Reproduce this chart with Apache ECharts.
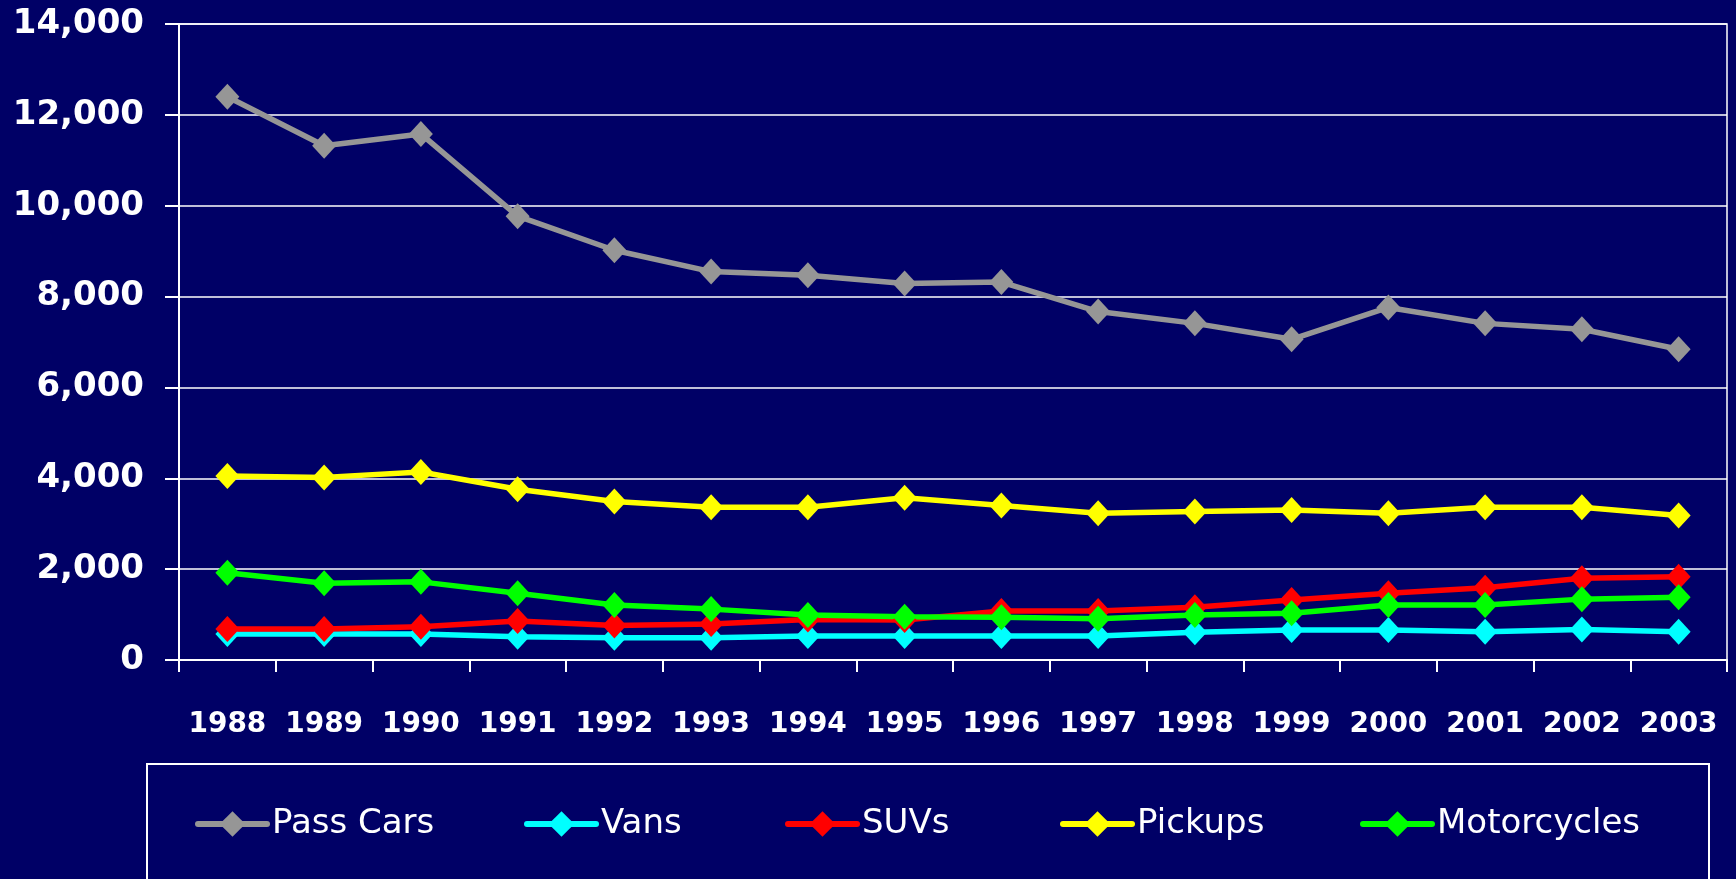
<!DOCTYPE html>
<html>
<head>
<meta charset="utf-8">
<script src="https://cdn.jsdelivr.net/npm/echarts@6/dist/echarts.min.js"></script>
<style>
  html, body { margin: 0; padding: 0; background: #000066; }
  #chart { width: 1736px; height: 879px; }
</style>
</head>
<body>
<div id="chart"></div>
<script>
const years = ['1988', '1989', '1990', '1991', '1992', '1993', '1994', '1995',
               '1996', '1997', '1998', '1999', '2000', '2001', '2002', '2003'];

const passCars    = [12400, 11320, 11580, 9770, 9020, 8550, 8470, 8290, 8320, 7670, 7410, 7060, 7760, 7410, 7280, 6840];
const vans        = [570, 570, 570, 510, 490, 490, 530, 530, 530, 530, 610, 660, 660, 620, 670, 620];
const suvs        = [680, 680, 730, 860, 760, 790, 890, 880, 1080, 1080, 1160, 1320, 1470, 1590, 1800, 1830];
const pickups     = [4050, 4020, 4140, 3760, 3490, 3360, 3360, 3570, 3400, 3230, 3270, 3300, 3230, 3360, 3360, 3180];
const motorcycles = [1920, 1690, 1720, 1470, 1210, 1120, 990, 950, 940, 910, 990, 1030, 1210, 1210, 1340, 1380];

const seriesNames = ['Pass Cars', 'Vans', 'SUVs', 'Pickups', 'Motorcycles'];
const seriesData = [passCars, vans, suvs, pickups, motorcycles];
const colors = ['#969696', '#00ffff', '#ff0000', '#ffff00', '#00ff00'];

// legend item x positions (Excel spreads them out unevenly)
const legendLeft = [195, 524, 785, 1060, 1360];

const chart = echarts.init(document.getElementById('chart'));

const option = {
  backgroundColor: '#000066',
  animation: false,
  grid: {
    left: 179,
    right: 9,
    top: 24,
    bottom: 219,
    show: true,
    borderColor: '#ffffff',
    borderWidth: 1.5,
    backgroundColor: 'transparent'
  },
  legend: seriesNames.map((name, i) => ({
    data: [name],
    left: legendLeft[i],
    top: 807,
    padding: 0,
    itemWidth: 69,
    itemHeight: 32,
    itemGap: 0,
    lineStyle: { width: 6, cap: 'round' },
    textStyle: {
      color: '#ffffff',
      fontFamily: 'DejaVu Sans',
      fontSize: 34,
      padding: 0
    }
  })),
  xAxis: {
    type: 'category',
    data: years,
    boundaryGap: true,
    axisLine: { show: true, lineStyle: { color: '#ffffff', width: 2 } },
    axisTick: { show: true, length: 12, lineStyle: { color: '#ffffff', width: 2 } },
    axisLabel: {
      color: '#ffffff',
      fontFamily: 'DejaVu Sans',
      fontWeight: 'bold',
      fontSize: 28,
      margin: 51,
      interval: 0
    },
    splitLine: { show: false }
  },
  yAxis: {
    type: 'value',
    min: 0,
    max: 14000,
    interval: 2000,
    axisLine: { show: true, lineStyle: { color: '#ffffff', width: 2 } },
    axisTick: { show: true, length: 14, lineStyle: { color: '#ffffff', width: 2 } },
    axisLabel: {
      color: '#ffffff',
      fontFamily: 'DejaVu Sans',
      fontWeight: 'bold',
      fontSize: 34,
      margin: 35,
      formatter: v => v.toLocaleString('en-US')
    },
    splitLine: { show: true, lineStyle: { color: '#ffffff', width: 1.5 } }
  },
  graphic: [{
    type: 'rect',
    shape: { x: 147, y: 764, width: 1562, height: 200 },
    style: { fill: 'none', stroke: '#ffffff', lineWidth: 2 },
    silent: true
  }],
  series: seriesNames.map((name, i) => ({
    name: name,
    type: 'line',
    data: seriesData[i],
    symbol: 'diamond',
    symbolSize: [24, 26],
    showAllSymbol: true,
    color: colors[i],
    lineStyle: { color: colors[i], width: 5.5 },
    itemStyle: { color: colors[i] }
  }))
};

chart.setOption(option);
</script>
</body>
</html>
